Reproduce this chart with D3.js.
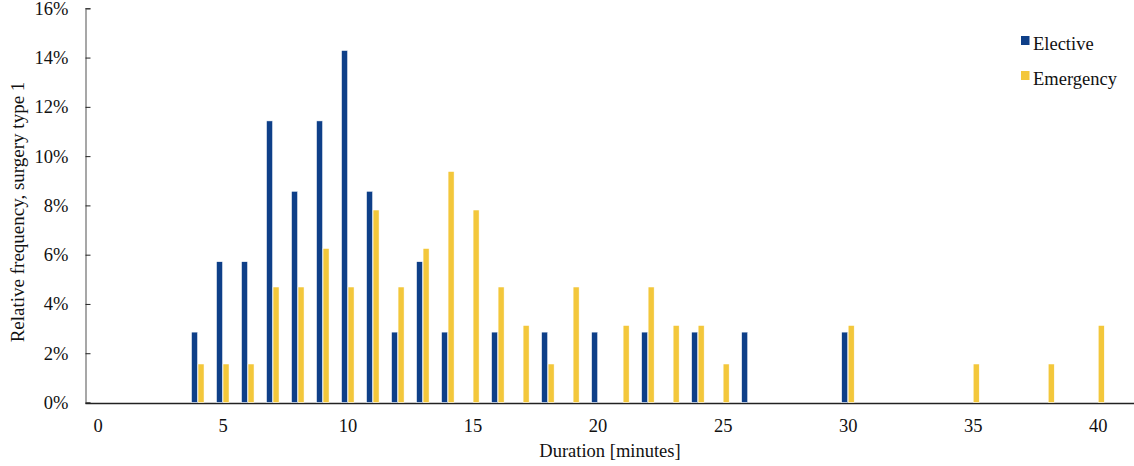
<!DOCTYPE html>
<html lang="en">
<head>
    <meta charset="UTF-8">
    <script src="https://d3js.org/d3.v7.min.js"></script>
    <title>Duration histogram</title>
    <style>
        body { margin: 0; background: #fff; }
        svg text { font-family: "Liberation Serif", "DejaVu Serif", serif; fill: #111; }
    </style>
</head>
<body>
    <div id="chart"></div>
    <script>
        const width = 1134;
        const height = 466;

        // Data (relative frequency in %)
        const electiveMinutes = [4, 5, 6, 7, 8, 9, 10, 11, 12, 13, 14, 16, 18, 20, 22, 24, 26, 30];
        const electiveValues = [2.857, 5.714, 5.714, 11.429, 8.571, 11.429, 14.286, 8.571, 2.857, 5.714, 2.857, 2.857, 2.857, 2.857, 2.857, 2.857, 2.857, 2.857];
        const emergencyMinutes = [4, 5, 6, 7, 8, 9, 10, 11, 12, 13, 14, 15, 16, 17, 18, 19, 21, 22, 23, 24, 25, 30, 35, 38, 40];
        const emergencyValues = [1.5625, 1.5625, 1.5625, 4.6875, 4.6875, 6.25, 4.6875, 7.8125, 4.6875, 6.25, 9.375, 7.8125, 4.6875, 3.125, 1.5625, 4.6875, 3.125, 4.6875, 3.125, 3.125, 1.5625, 3.125, 1.5625, 1.5625, 3.125];
        const xTicks = [0, 5, 10, 15, 20, 25, 30, 35, 40];
        const yTicks = [0, 2, 4, 6, 8, 10, 12, 14, 16];
        const seriesNames = ["Elective", "Emergency"];
        const colors = ["#0e3f88", "#f3c73b"];

        const svg = d3.select("#chart")
            .append("svg")
            .attr("width", width)
            .attr("height", height);

        const x = d3.scaleLinear().domain([-0.5, 41.45]).range([85, 1134]);
        const y = d3.scaleLinear().domain([0, 16]).range([402.5, 8.3]);

        // y axis (gray line, inward dark ticks)
        const yAxis = svg.append("g")
            .attr("transform", "translate(85.5,0)")
            .call(d3.axisLeft(y).tickValues(yTicks).tickSize(-5).tickPadding(22).tickFormat(d => d + "%"));
        yAxis.select(".domain").attr("stroke", "#8a8a8a").attr("stroke-width", 1.5);
        yAxis.selectAll(".tick line").attr("stroke", "#222");
        yAxis.selectAll("text").style("font-size", "18.5px").attr("x", -17);

        // x axis (no tick marks)
        const xAxis = svg.append("g")
            .attr("transform", `translate(0,${y(0) + 0.5})`)
            .call(d3.axisBottom(x).tickValues(xTicks).tickSize(0).tickPadding(16));
        xAxis.select(".domain").attr("stroke", "#222").attr("stroke-width", 1.5);
        xAxis.selectAll("text").style("font-size", "18.5px");

        // bars
        const barW = 6;
        svg.append("g").selectAll("rect")
            .data(electiveMinutes.map((m, i) => ({ m, v: electiveValues[i] })))
            .join("rect")
            .attr("x", d => x(d.m) - barW)
            .attr("width", barW)
            .attr("y", d => y(d.v))
            .attr("height", d => y(0) - y(d.v))
            .attr("fill", colors[0])
            .attr("stroke", "#fff")
            .attr("stroke-width", 0.5);

        svg.append("g").selectAll("rect")
            .data(emergencyMinutes.map((m, i) => ({ m, v: emergencyValues[i] })))
            .join("rect")
            .attr("x", d => x(d.m) + 0.5)
            .attr("width", barW)
            .attr("y", d => y(d.v))
            .attr("height", d => y(0) - y(d.v))
            .attr("fill", colors[1])
            .attr("stroke", "#fff")
            .attr("stroke-width", 0.5);

        // axis labels
        svg.append("text")
            .attr("x", 610)
            .attr("y", 457)
            .attr("text-anchor", "middle")
            .style("font-size", "18.5px")
            .text("Duration [minutes]");

        svg.append("text")
            .attr("transform", "rotate(-90)")
            .attr("x", -212)
            .attr("y", 24)
            .attr("text-anchor", "middle")
            .style("font-size", "19px")
            .text("Relative frequency, surgery type 1");

        // legend
        const legend = svg.append("g").attr("transform", "translate(1021,36)");
        seriesNames.forEach((name, i) => {
            legend.append("rect")
                .attr("x", 0)
                .attr("y", i * 35)
                .attr("width", 8.5)
                .attr("height", 9)
                .attr("fill", colors[i]);
            legend.append("text")
                .attr("x", 12)
                .attr("y", i * 35 + 14)
                .style("font-size", "18.5px")
                .text(name);
        });
    </script>
</body>
</html>
